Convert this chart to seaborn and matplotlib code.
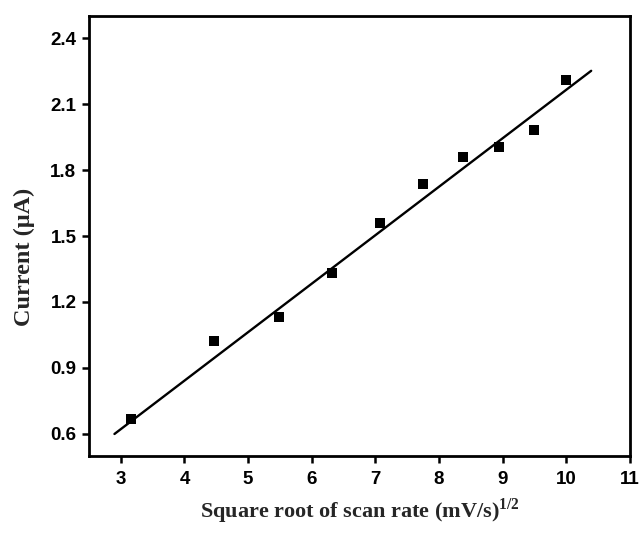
import matplotlib
matplotlib.use("Agg")
import matplotlib.pyplot as plt
import seaborn as sns
import pandas as pd

# data
sqrt_scan_rate = [3.16, 4.47, 5.48, 6.32, 7.07, 7.75, 8.37, 8.94, 9.49, 10.0]
current = [0.667, 1.021, 1.130, 1.333, 1.560, 1.738, 1.858, 1.903, 1.980, 2.209]
fit_x = [2.90, 10.39]
fit_y = [0.600, 2.251]
x_ticks = [3, 4, 5, 6, 7, 8, 9, 10, 11]
y_ticks = [0.6, 0.9, 1.2, 1.5, 1.8, 2.1, 2.4]

sns.set_theme(style="ticks")
plt.rcParams['font.family'] = ['Liberation Sans', 'DejaVu Sans']
plt.rcParams['mathtext.fontset'] = 'custom'
plt.rcParams['mathtext.rm'] = 'Liberation Serif'
plt.rcParams['mathtext.bf'] = 'Liberation Serif:bold'

df = pd.DataFrame({"x": sqrt_scan_rate, "y": current})
fit = pd.DataFrame({"x": fit_x, "y": fit_y})

fig = plt.figure(figsize=(6.43, 5.36), dpi=100)
ax = fig.add_axes([0.1384, 0.1493, 0.9798 - 0.1384, 0.9701 - 0.1493])

sns.lineplot(data=fit, x="x", y="y", ax=ax, color="black", linewidth=1.7)
sns.scatterplot(data=df, x="x", y="y", ax=ax, marker="s", s=58, color="black",
                linewidth=0, zorder=3)

ax.set_xlim(2.5, 11)
ax.set_ylim(0.5, 2.5)
ax.set_xticks(x_ticks)
ax.set_yticks(y_ticks)
ax.set_xticklabels([str(t) for t in x_ticks], fontweight="bold", fontsize=13.5)
ax.set_yticklabels([f"{t:.1f}" for t in y_ticks], fontweight="bold", fontsize=13.5)
ax.tick_params(axis="x", direction="out", length=5, width=1.8, colors="black", pad=6)
ax.tick_params(axis="y", direction="out", length=5, width=1.8, colors="black", pad=4)

for sp in ax.spines.values():
    sp.set_linewidth(2.0)
    sp.set_color("black")
    sp.set_visible(True)

ax.set_xlabel(r"Square root of scan rate (mV/s)$^{\mathbf{1/2}}$",
              family="Liberation Serif", fontweight="bold", fontsize=16, labelpad=6)
ax.set_ylabel("Current (μA)", family="Liberation Serif", fontweight="bold",
              fontsize=17.5)
ax.yaxis.set_label_coords(-0.10, 0.452)

fig.savefig("out.png", dpi=100)
